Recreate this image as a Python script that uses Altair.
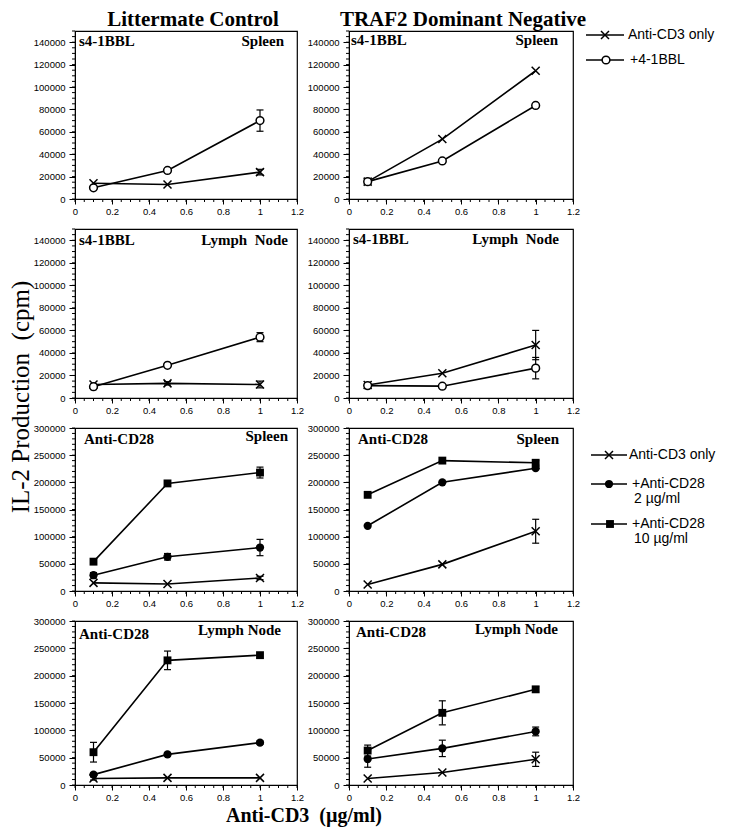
import altair as alt
import pandas as pd

# ---------------- data ----------------
X_VALS = [0.1, 0.5, 1.0]

X_TICKS = [0, 0.2, 0.4, 0.6, 0.8, 1.0, 1.2]
X_MINOR = [round(0.05 * i, 2) for i in range(25)]
Y_TICKS_BBL = [0, 20000, 40000, 60000, 80000, 100000, 120000, 140000]
Y_MINOR_BBL = list(range(0, 150001, 5000))
Y_TICKS_CD28 = [0, 50000, 100000, 150000, 200000, 250000, 300000]
Y_MINOR_CD28 = list(range(0, 300001, 10000))

# Littermate Control, s4-1BBL, Spleen
lc_sp_bbl_cd3 = [14000, 13000, 24000]
lc_sp_bbl_cd3_err = [0, 0, 2500]
lc_sp_bbl_41bbl = [10000, 25500, 70000]
lc_sp_bbl_41bbl_err = [0, 1500, 9500]
# TRAF2 DN, s4-1BBL, Spleen
dn_sp_bbl_cd3 = [15500, 53500, 114500]
dn_sp_bbl_cd3_err = [0, 0, 0]
dn_sp_bbl_41bbl = [15500, 34000, 83500]
dn_sp_bbl_41bbl_err = [0, 0, 0]
# Littermate Control, s4-1BBL, Lymph Node
lc_ln_bbl_cd3 = [12000, 13000, 12000]
lc_ln_bbl_cd3_err = [0, 1500, 3000]
lc_ln_bbl_41bbl = [10000, 29000, 54000]
lc_ln_bbl_41bbl_err = [2500, 0, 4000]
# TRAF2 DN, s4-1BBL, Lymph Node
dn_ln_bbl_cd3 = [11500, 22000, 47000]
dn_ln_bbl_cd3_err = [0, 0, 13000]
dn_ln_bbl_41bbl = [11000, 10500, 26500]
dn_ln_bbl_41bbl_err = [0, 0, 9500]

# Littermate Control, Anti-CD28, Spleen
lc_sp_cd28_cd3 = [15000, 13000, 24000]
lc_sp_cd28_cd3_err = [0, 0, 3000]
lc_sp_cd28_2 = [29000, 63000, 80000]
lc_sp_cd28_2_err = [5000, 6000, 15000]
lc_sp_cd28_10 = [54000, 198000, 218000]
lc_sp_cd28_10_err = [0, 0, 10000]
# TRAF2 DN, Anti-CD28, Spleen
dn_sp_cd28_cd3 = [12000, 49000, 110000]
dn_sp_cd28_cd3_err = [0, 0, 22000]
dn_sp_cd28_2 = [120000, 200000, 226000]
dn_sp_cd28_2_err = [0, 0, 0]
dn_sp_cd28_10 = [177000, 240000, 236000]
dn_sp_cd28_10_err = [0, 0, 4000]
# Littermate Control, Anti-CD28, Lymph Node
lc_ln_cd28_cd3 = [12000, 13000, 13000]
lc_ln_cd28_cd3_err = [3000, 0, 0]
lc_ln_cd28_2 = [19000, 56000, 77500]
lc_ln_cd28_2_err = [3000, 3000, 3000]
lc_ln_cd28_10 = [60000, 228000, 237500]
lc_ln_cd28_10_err = [18000, 17000, 0]
# TRAF2 DN, Anti-CD28, Lymph Node
dn_ln_cd28_cd3 = [12000, 23000, 47000]
dn_ln_cd28_cd3_err = [0, 0, 13000]
dn_ln_cd28_2 = [47500, 67000, 98000]
dn_ln_cd28_2_err = [15000, 15000, 8000]
dn_ln_cd28_10 = [63000, 132000, 175000]
dn_ln_cd28_10_err = [10000, 22000, 5000]

LEGEND1 = ["Anti-CD3 only", "+4-1BBL"]
LEGEND2 = ["Anti-CD3 only", "+Anti-CD28", "2 \u00b5g/ml", "+Anti-CD28", "10 \u00b5g/ml"]

NB2 = "\u00a0\u00a0"  # visible double space

# ---------------- styling ----------------
SERIF = "Liberation Serif"
SANS = "Liberation Sans"
XPATH = "M-1,-1L1,1M-1,1L1,-1"
CAP = "M-1,0L1,0"
LEG_FS = 14

STYLE = {
    "cd3": dict(shape=XPATH, filled=False, color="black", strokeWidth=1.5, size=64),
    "bbl": dict(shape="circle", filled=True, fill="white", stroke="black", strokeWidth=1.5, size=60),
    "c2": dict(shape="circle", filled=True, color="black", size=68),
    "c10": dict(shape="square", filled=True, color="black", size=62),
}


def text_layer(text, x, y, size, font=SERIF, weight="bold", align="left",
               baseline="alphabetic", angle=None):
    kw = dict(font=font, fontSize=size, fontWeight=weight, align=align,
              baseline=baseline, color="black")
    if angle is not None:
        kw["angle"] = angle
    return alt.Chart(alt.Data(values=[{"t": text}])).mark_text(**kw).encode(
        text="t:N", x=alt.value(x), y=alt.value(y))


def legend_item(key, label, x0, x1, xm, xt, y, extra_line=None):
    d = alt.Data(values=[{"t": label}])
    line = alt.Chart(d).mark_rule(color="black", strokeWidth=1.5).encode(
        x=alt.value(x0), x2=alt.value(x1), y=alt.value(y))
    pt = alt.Chart(d).mark_point(opacity=1, **STYLE[key]).encode(
        x=alt.value(xm), y=alt.value(y))
    tx = alt.Chart(d).mark_text(font=SANS, fontSize=LEG_FS, align="left", baseline="middle",
                               color="black").encode(text="t:N", x=alt.value(xt), y=alt.value(y))
    out = [line, pt, tx]
    if extra_line is not None:
        out.append(text_layer(extra_line, xt + 2, y + 15, LEG_FS, font=SANS, weight="normal",
                              baseline="middle"))
    return out


def make_panel(series, width, height, ymax, yticks, yminor, extras):
    rows = []
    for key, vals, errs in series:
        for xv, v, e in zip(X_VALS, vals, errs):
            rows.append(dict(s=key, x=xv, y=v, lo=v - e, hi=v + e, e=e))
    df = pd.DataFrame(rows)
    xs = alt.Scale(domain=[0, 1.2], nice=False, zero=False)
    ys = alt.Scale(domain=[0, ymax], nice=False, zero=True)
    xax = alt.Axis(values=X_TICKS, format="~g", title=None, grid=False, tickSize=5,
                   labelPadding=2, labelFlush=False)
    yax = alt.Axis(values=yticks, format="d", title=None, grid=False, tickSize=6,
                   labelPadding=4)

    def X(f):
        return alt.X(f, type="quantitative", scale=xs, axis=xax)

    def Y(f):
        return alt.Y(f, type="quantitative", scale=ys, axis=yax)

    base = alt.Chart(df)
    layers = []
    layers.append(alt.Chart(alt.Data(values=[{"m": v} for v in X_MINOR]))
                  .mark_rule(color="black", strokeWidth=1)
                  .encode(x=X("m"), y=alt.value(height), y2=alt.value(height + 3)))
    layers.append(alt.Chart(alt.Data(values=[{"m": v} for v in yminor]))
                  .mark_rule(color="black", strokeWidth=1)
                  .encode(y=Y("m"), x=alt.value(-3), x2=alt.value(0)))
    layers.append(base.mark_line(color="black", strokeWidth=1.6)
                  .encode(x=X("x"), y=Y("y"), detail="s:N"))
    err = base.transform_filter("datum.e > 0")
    layers.append(err.mark_rule(color="black", strokeWidth=1.2)
                  .encode(x=X("x"), y=Y("lo"), y2=alt.Y2("hi")))
    for f in ("lo", "hi"):
        layers.append(err.mark_point(shape=CAP, filled=False, color="black", size=49,
                                     strokeWidth=1.2, opacity=1)
                      .encode(x=X("x"), y=Y(f)))
    for key, _, _ in series:
        layers.append(base.transform_filter(f"datum.s == '{key}'")
                      .mark_point(opacity=1, **STYLE[key])
                      .encode(x=X("x"), y=Y("y")))
    layers.extend(extras)
    return alt.layer(*layers).properties(width=width, height=height)


W1, W2 = 222, 224
H = [168, 169, 163, 164]

p1 = make_panel(
    [("cd3", lc_sp_bbl_cd3, lc_sp_bbl_cd3_err), ("bbl", lc_sp_bbl_41bbl, lc_sp_bbl_41bbl_err)],
    W1, H[0], 150000, Y_TICKS_BBL, Y_MINOR_BBL,
    [text_layer("s4-1BBL", 4, 15, 15), text_layer("Spleen", 209, 15, 15, align="right"),
     text_layer("Littermate Control", 118, -5, 21, align="center")])

p2 = make_panel(
    [("cd3", dn_sp_bbl_cd3, dn_sp_bbl_cd3_err), ("bbl", dn_sp_bbl_41bbl, dn_sp_bbl_41bbl_err)],
    W2, H[0], 150000, Y_TICKS_BBL, Y_MINOR_BBL,
    [text_layer("s4-1BBL", 2, 14, 15), text_layer("Spleen", 209, 14, 15, align="right"),
     text_layer("TRAF2 Dominant Negative", 114, -5, 21, align="center")]
    + legend_item("cd3", LEGEND1[0], 237, 275, 256, 279, 4)
    + legend_item("bbl", LEGEND1[1], 237, 275, 257, 281, 29))

p3 = make_panel(
    [("cd3", lc_ln_bbl_cd3, lc_ln_bbl_cd3_err), ("bbl", lc_ln_bbl_41bbl, lc_ln_bbl_41bbl_err)],
    W1, H[1], 150000, Y_TICKS_BBL, Y_MINOR_BBL,
    [text_layer("s4-1BBL", 4, 16, 15), text_layer("Lymph" + NB2 + "Node", 213, 16, 15, align="right"),
     text_layer("IL-2 Production" + NB2 + "(cpm)", -46, 168, 25, weight="normal",
                align="center", angle=270)])

p4 = make_panel(
    [("cd3", dn_ln_bbl_cd3, dn_ln_bbl_cd3_err), ("bbl", dn_ln_bbl_41bbl, dn_ln_bbl_41bbl_err)],
    W2, H[1], 150000, Y_TICKS_BBL, Y_MINOR_BBL,
    [text_layer("s4-1BBL", 4, 15, 15), text_layer("Lymph" + NB2 + "Node", 210, 15, 15, align="right")])

p5 = make_panel(
    [("cd3", lc_sp_cd28_cd3, lc_sp_cd28_cd3_err), ("c2", lc_sp_cd28_2, lc_sp_cd28_2_err),
     ("c10", lc_sp_cd28_10, lc_sp_cd28_10_err)],
    W1, H[2], 300000, Y_TICKS_CD28, Y_MINOR_CD28,
    [text_layer("Anti-CD28", 9, 16, 15), text_layer("Spleen", 213, 13, 15, align="right")])

p6 = make_panel(
    [("cd3", dn_sp_cd28_cd3, dn_sp_cd28_cd3_err), ("c2", dn_sp_cd28_2, dn_sp_cd28_2_err),
     ("c10", dn_sp_cd28_10, dn_sp_cd28_10_err)],
    W2, H[2], 300000, Y_TICKS_CD28, Y_MINOR_CD28,
    [text_layer("Anti-CD28", 9, 16, 15), text_layer("Spleen", 210, 16, 15, align="right")]
    + legend_item("cd3", LEGEND2[0], 242, 278, 260, 280, 27)
    + legend_item("c2", LEGEND2[1], 242, 278, 260, 283, 56, extra_line=LEGEND2[2])
    + legend_item("c10", LEGEND2[3], 242, 278, 261, 283, 96, extra_line=LEGEND2[4]))

p7 = make_panel(
    [("cd3", lc_ln_cd28_cd3, lc_ln_cd28_cd3_err), ("c2", lc_ln_cd28_2, lc_ln_cd28_2_err),
     ("c10", lc_ln_cd28_10, lc_ln_cd28_10_err)],
    W1, H[3], 300000, Y_TICKS_CD28, Y_MINOR_CD28,
    [text_layer("Anti-CD28", 4, 18, 15), text_layer("Lymph Node", 206, 14, 15, align="right"),
     text_layer("Anti-CD3" + NB2 + "(\u00b5g/ml)", 229, 201, 20, align="center")])

p8 = make_panel(
    [("cd3", dn_ln_cd28_cd3, dn_ln_cd28_cd3_err), ("c2", dn_ln_cd28_2, dn_ln_cd28_2_err),
     ("c10", dn_ln_cd28_10, dn_ln_cd28_10_err)],
    W2, H[3], 300000, Y_TICKS_CD28, Y_MINOR_CD28,
    [text_layer("Anti-CD28", 7, 16, 15), text_layer("Lymph Node", 209, 13, 15, align="right")])

chart = (
    alt.concat(p1, p2, p3, p4, p5, p6, p7, p8, columns=2,
               spacing={"row": 30, "column": 52}, bounds="flush")
    .properties(padding={"left": 0, "top": 0, "right": 0, "bottom": 0}, background="white")
    .configure_view(stroke="black", strokeWidth=1.2)
    .configure_axis(labelFont=SANS, labelFontSize=9.5, labelColor="black",
                    domainColor="black", tickColor="black", domainWidth=1, tickWidth=1)
)

chart.save("out.html", embed_options={"renderer": "svg", "actions": False})
